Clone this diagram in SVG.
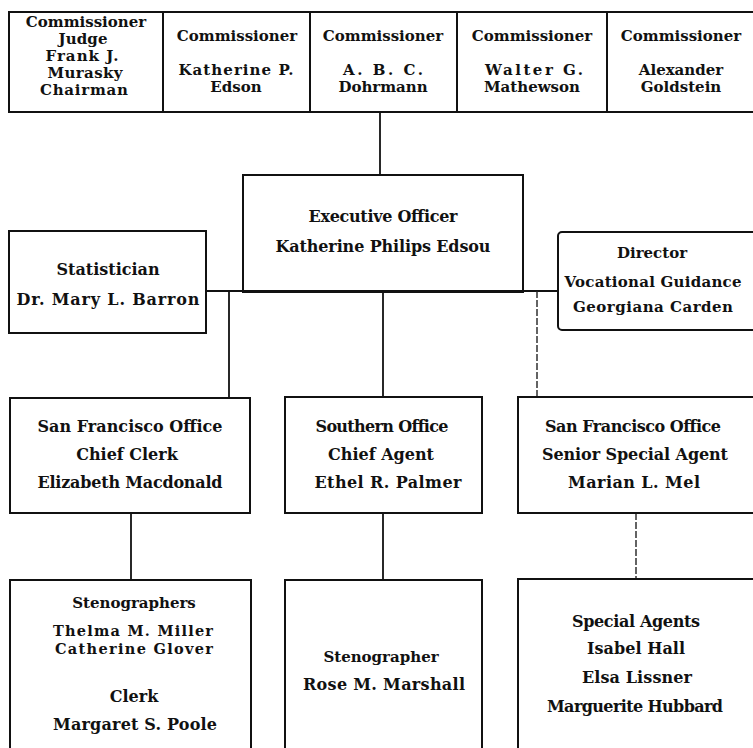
<svg xmlns="http://www.w3.org/2000/svg" width="753" height="748" viewBox="0 0 753 748">
<style>
.box{fill:none;stroke:#111;stroke-width:2}
.ln{fill:none;stroke:#111;stroke-width:1.8}
.dl{fill:none;stroke:#222;stroke-width:1.4;stroke-dasharray:7 2}
text{font-family:"DejaVu Serif","Liberation Serif",serif;font-weight:bold;font-size:15px;fill:#111;text-anchor:middle}
.m{font-size:16px}
.s{font-size:14.5px}
</style>
<rect width="753" height="748" fill="#fff"/>
<g id="connectors">
<path class="ln" d="M380 112V175"/>
<path class="ln" d="M206 291H558"/>
<path class="ln" d="M229 291V398"/>
<path class="ln" d="M383 292V397"/>
<path class="dl" d="M537 291V397"/>
<path class="ln" d="M131 513V580"/>
<path class="ln" d="M383 513V580"/>
<path class="dl" d="M636 513V579"/>
</g>
<g id="commissioners">
<rect class="box" x="9" y="12" width="760" height="100"/>
<path class="box" d="M163 12V112M310 12V112M457 12V112M607 12V112"/>
<g id="c1">
<text x="86" y="27">Commissioner</text>
<text x="83" y="44" textLength="49" lengthAdjust="spacing">Judge</text>
<text x="82" y="61" textLength="73" lengthAdjust="spacing">Frank J.</text>
<text x="85" y="78" textLength="75" lengthAdjust="spacing">Murasky</text>
<text x="84" y="95" textLength="88" lengthAdjust="spacing">Chairman</text>
</g>
<g id="c2">
<text x="237" y="41">Commissioner</text>
<text x="236" y="75" textLength="115" lengthAdjust="spacing">Katherine P.</text>
<text x="236" y="92">Edson</text>
</g>
<g id="c3">
<text x="383" y="41">Commissioner</text>
<text x="383" y="75" textLength="80" lengthAdjust="spacing">A. B. C.</text>
<text x="383" y="92">Dohrmann</text>
</g>
<g id="c4">
<text x="532" y="41">Commissioner</text>
<text x="534" y="75" textLength="98" lengthAdjust="spacing">Walter G.</text>
<text x="532" y="92">Mathewson</text>
</g>
<g id="c5">
<text x="681" y="41">Commissioner</text>
<text x="681" y="75">Alexander</text>
<text x="681" y="92">Goldstein</text>
</g>
</g>
<g id="executive">
<rect class="box" x="243" y="175" width="280" height="117"/>
<text class="m" x="383" y="222" textLength="149" lengthAdjust="spacing">Executive Officer</text>
<text class="m" x="383" y="252" textLength="215" lengthAdjust="spacing">Katherine Philips Edsou</text>
</g>
<g id="statistician">
<rect class="box" x="9" y="231" width="197" height="102"/>
<text class="m" x="108" y="275">Statistician</text>
<text class="m" x="108" y="305" textLength="183" lengthAdjust="spacing">Dr. Mary L. Barron</text>
</g>
<g id="director">
<rect class="box" x="558" y="232" width="220" height="98" rx="4"/>
<text x="652" y="258">Director</text>
<text x="653" y="287" textLength="177" lengthAdjust="spacing">Vocational Guidance</text>
<text x="653" y="312" textLength="160" lengthAdjust="spacing">Georgiana Carden</text>
</g>
<g id="sf-chief-clerk">
<rect class="box" x="10" y="398" width="240" height="115"/>
<text class="m" x="130" y="432" textLength="185" lengthAdjust="spacing">San Francisco Office</text>
<text class="m" x="127" y="460">Chief Clerk</text>
<text class="m" x="130" y="488" textLength="185" lengthAdjust="spacing">Elizabeth Macdonald</text>
</g>
<g id="southern">
<rect class="box" x="285" y="397" width="197" height="116"/>
<text class="m" x="382" y="432" textLength="133" lengthAdjust="spacing">Southern Office</text>
<text class="m" x="381" y="460">Chief Agent</text>
<text class="m" x="388" y="488" textLength="147" lengthAdjust="spacing">Ethel R. Palmer</text>
</g>
<g id="sf-senior">
<rect class="box" x="518" y="397" width="260" height="116"/>
<text class="m" x="633" y="432" textLength="176" lengthAdjust="spacing">San Francisco Office</text>
<text class="m" x="635" y="460" textLength="186" lengthAdjust="spacing">Senior Special Agent</text>
<text class="m" x="634" y="488" textLength="132" lengthAdjust="spacing">Marian L. Mel</text>
</g>
<g id="stenographers">
<rect class="box" x="10" y="580" width="241" height="190"/>
<text x="134" y="608">Stenographers</text>
<text class="s" x="133" y="636" textLength="160" lengthAdjust="spacing">Thelma M. Miller</text>
<text class="s" x="134" y="654" textLength="158" lengthAdjust="spacing">Catherine Glover</text>
<text class="m" x="134" y="702">Clerk</text>
<text class="m" x="135" y="730" textLength="164" lengthAdjust="spacing">Margaret S. Poole</text>
</g>
<g id="stenographer">
<rect class="box" x="285" y="580" width="197" height="190"/>
<text x="381" y="662">Stenographer</text>
<text class="m" x="384" y="690" textLength="162" lengthAdjust="spacing">Rose M. Marshall</text>
</g>
<g id="special-agents">
<rect class="box" x="518" y="579" width="260" height="190"/>
<text class="m" x="636" y="627" textLength="128" lengthAdjust="spacing">Special Agents</text>
<text class="m" x="636" y="654" textLength="98" lengthAdjust="spacing">Isabel Hall</text>
<text class="m" x="637" y="683" textLength="110" lengthAdjust="spacing">Elsa Lissner</text>
<text class="m" x="635" y="712" textLength="176" lengthAdjust="spacing">Marguerite Hubbard</text>
</g>
</svg>
